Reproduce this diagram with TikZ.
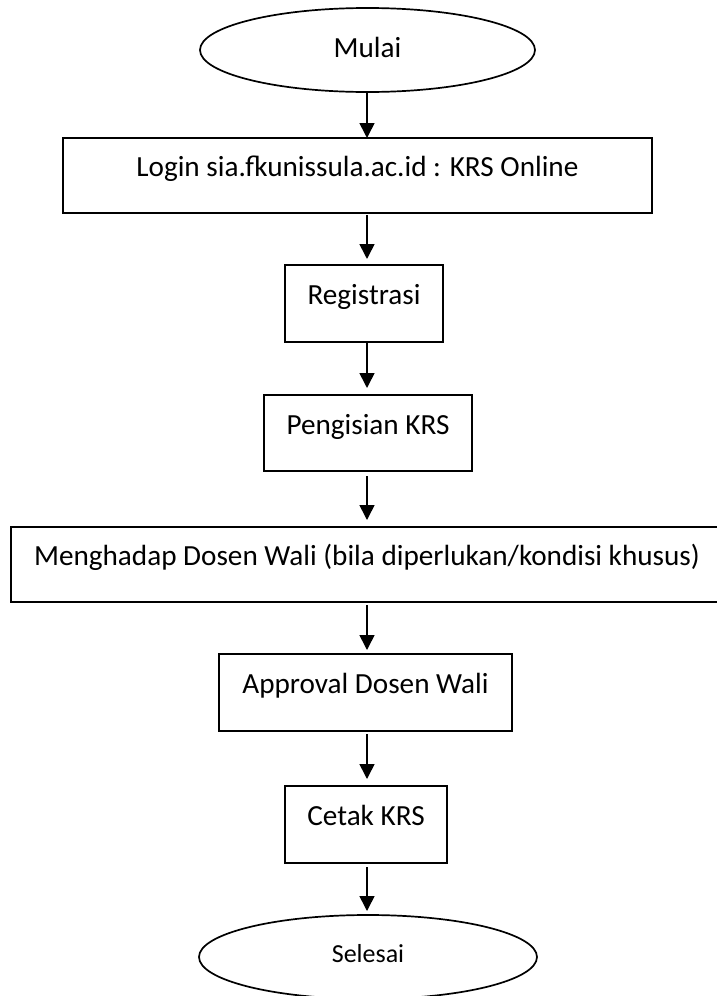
\documentclass[tikz,border=0pt]{standalone}
\usepackage{fontspec}
\setmainfont{Carlito}
\usetikzlibrary{shapes.geometric,arrows.meta}
\begin{document}
\begin{tikzpicture}[x=1pt,y=-1pt,
  every node/.style={inner sep=0pt,outer sep=0pt,font=\fontsize{29.2}{31}\selectfont},
  procbox/.style={draw,line width=1.7pt,rectangle,text height=20pt,text depth=18pt},
  termnode/.style={draw,line width=1.7pt,ellipse},
  flowarrow/.style={line width=1.6pt,-{Triangle[width=15pt,length=15pt]}}]
\useasboundingbox (0,0) rectangle (717,996);
\coordinate (ax) at (367,0);
\node[termnode,minimum width=335pt,minimum height=84pt,text height=20pt,text depth=6pt] (mulai) at (367.5,50) {Mulai};
\node[procbox,minimum width=589pt,minimum height=75pt] (login) at (357.5,175.5) {Login sia.fkunissula.ac.id : KRS Online};
\node[procbox,minimum width=158pt,minimum height=77pt] (reg) at (364,303.5) {Registrasi};
\node[procbox,minimum width=208pt,minimum height=76pt] (isi) at (368,433) {Pengisian KRS};
\node[procbox,minimum width=712pt,minimum height=75pt] (hadap) at (367,564.5) {Menghadap Dosen Wali (bila diperlukan/kondisi khusus)};
\node[procbox,minimum width=293pt,minimum height=77pt] (appr) at (365.5,692.5) {Approval Dosen Wali};
\node[procbox,minimum width=162pt,minimum height=77pt] (cetak) at (366,824.5) {Cetak KRS};
\node[termnode,minimum width=338pt,minimum height=84pt,text height=18pt,text depth=8pt,font=\fontsize{26}{28}\selectfont] (selesai) at (368,957) {Selesai};
\draw[flowarrow,shorten <=1pt] (mulai.south -| ax) -- (login.north -| ax);
\draw[flowarrow,shorten <=2pt,shorten >=6pt] (login.south -| ax) -- (reg.north -| ax);
\draw[flowarrow,shorten <=1pt,shorten >=7pt] (reg.south -| ax) -- (isi.north -| ax);
\draw[flowarrow,shorten <=5pt,shorten >=7pt] (isi.south -| ax) -- (hadap.north -| ax);
\draw[flowarrow,shorten <=3pt,shorten >=4pt] (hadap.south -| ax) -- (appr.north -| ax);
\draw[flowarrow,shorten <=3pt,shorten >=7pt] (appr.south -| ax) -- (cetak.north -| ax);
\draw[flowarrow,shorten <=4pt,shorten >=4pt] (cetak.south -| ax) -- (selesai.north -| ax);
\end{tikzpicture}
\end{document}
